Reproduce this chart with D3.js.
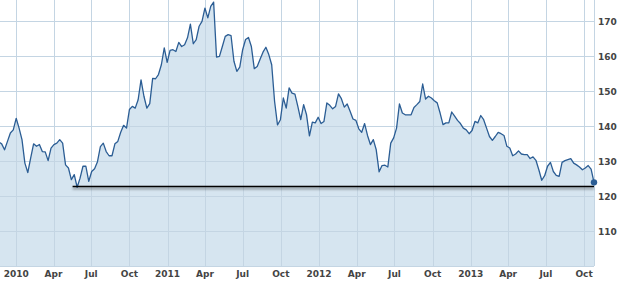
<!DOCTYPE html>
<html>
<head>
<meta charset="utf-8">
<script src="https://cdn.jsdelivr.net/npm/d3@7"></script>
<style>
  html, body { margin: 0; padding: 0; background: #fff; }
  svg text { font-family: "DejaVu Sans", Verdana, sans-serif; font-weight: bold; font-size: 9px; fill: #444; }
</style>
</head>
<body>
<div id="chart"></div>
<script>
// weekly closes, first week ending 2009-11-20
const firstWeek = '2009-11-20';
const closes = [
  135.4, 134.9, 133.2, 135.6, 138.0, 138.9, 142.2, 139.4, 136.1, 129.4,
  126.7, 130.9, 134.9, 134.2, 134.7, 132.7, 132.6, 130.1, 133.7, 134.7,
  135.1, 136.1, 135.1, 128.9, 128.0, 124.7, 126.1, 122.5, 125.1, 128.5,
  128.5, 124.2, 127.0, 127.8, 129.8, 134.1, 135.1, 132.7, 131.5, 131.5,
  134.9, 135.6, 138.2, 140.2, 139.4, 144.7, 145.6, 145.1, 147.5, 153.2,
  148.5, 145.1, 146.4, 153.6, 153.5, 154.7, 157.5, 162.3, 158.2, 161.6,
  161.8, 161.3, 163.9, 162.7, 163.2, 165.2, 169.1, 163.5, 164.7, 168.5,
  169.9, 173.7, 170.9, 174.2, 175.4, 159.7, 159.9, 162.7, 165.6, 166.1,
  165.8, 158.5, 155.6, 156.8, 161.8, 164.7, 165.3, 162.7, 156.4, 157.0,
  159.1, 161.1, 162.5, 160.4, 157.5, 147.0, 140.3, 141.8, 148.0, 145.1,
  150.9, 149.4, 149.1, 145.6, 141.8, 146.1, 143.2, 137.2, 141.1, 140.9,
  142.5, 140.7, 141.3, 146.6, 145.9, 144.9, 145.6, 149.2, 147.8, 145.4,
  146.3, 144.2, 142.0, 141.6, 139.2, 138.2, 140.7, 137.3, 134.7, 136.1,
  133.2, 126.9, 128.7, 128.8, 128.3, 135.1, 136.6, 139.4, 146.3, 143.7,
  143.2, 143.2, 143.2, 145.3, 146.1, 147.0, 152.0, 147.7, 148.5, 148.0,
  147.2, 146.6, 143.7, 140.4, 140.9, 140.9, 144.0, 142.8, 141.6, 140.7,
  139.4, 138.9, 137.8, 138.7, 141.3, 140.9, 143.0, 141.8, 139.4, 137.0,
  135.9, 137.0, 138.2, 137.8, 137.3, 134.2, 133.7, 131.5, 132.0, 132.9,
  132.0, 131.8, 131.8, 130.7, 131.2, 130.2, 127.5, 124.5, 125.8, 128.5,
  129.6, 127.0, 125.9, 125.6, 129.6, 130.1, 130.4, 130.7, 129.4, 128.9,
  128.3, 127.5, 128.0, 128.7, 127.7, 123.9
];
const yTicks = [110, 120, 130, 140, 150, 160, 170];
const supportLevel = 122.9;
const supportFrom = '2010-05-17';

const width = 619;
const height = 283;
const plotW = 594;
const plotH = 266;

const parse = d3.timeParse('%Y-%m-%d');
const start = parse(firstWeek);
const data = closes.map((v, i) => ({ date: d3.timeWeek.offset(start, i), value: v }));
const lastDate = data[data.length - 1].date;

const x = d3.scaleTime()
  .domain([d3.timeDay.offset(lastDate, -1432), lastDate])
  .range([0, plotW]);

const y = d3.scaleLinear()
  .domain([100, 176])
  .range([plotH, 0]);

const svg = d3.select('#chart').append('svg')
  .attr('width', width)
  .attr('height', height);

const defs = svg.append('defs');
defs.append('clipPath').attr('id', 'plot')
  .append('rect').attr('width', plotW).attr('height', plotH);

defs.append('filter').attr('id', 'blur')
  .attr('filterUnits', 'userSpaceOnUse')
  .attr('x', 0).attr('y', 0).attr('width', width).attr('height', height)
  .append('feGaussianBlur')
  .attr('stdDeviation', 1.2);

const plot = svg.append('g').attr('clip-path', 'url(#plot)');

const area = d3.area()
  .x(d => x(d.date))
  .y0(plotH)
  .y1(d => y(d.value));

plot.append('path')
  .datum(data)
  .attr('fill', '#d6e5f0')
  .attr('d', area);

// grid on top of the fill
const xTicks = d3.timeMonth.every(3).range(d3.timeMonth.ceil(x.domain()[0]), lastDate);

plot.append('g')
  .attr('stroke', '#c4d5e3')
  .attr('stroke-width', 1)
  .selectAll('line')
  .data(xTicks)
  .join('line')
  .attr('x1', d => Math.round(x(d)) + 0.5)
  .attr('x2', d => Math.round(x(d)) + 0.5)
  .attr('y1', 0)
  .attr('y2', plotH);

plot.append('g')
  .attr('stroke', '#c4d5e3')
  .attr('stroke-width', 1)
  .selectAll('line')
  .data(yTicks)
  .join('line')
  .attr('x1', 0)
  .attr('x2', plotW)
  .attr('y1', d => Math.round(y(d)) + 0.5)
  .attr('y2', d => Math.round(y(d)) + 0.5);

svg.append('line')
  .attr('x1', 0).attr('x2', plotW)
  .attr('y1', plotH + 0.5).attr('y2', plotH + 0.5)
  .attr('stroke', '#c4d5e3');

svg.append('line')
  .attr('x1', plotW + 0.5).attr('x2', plotW + 0.5)
  .attr('y1', 0).attr('y2', plotH)
  .attr('stroke', '#c4d5e3');

const line = d3.line()
  .x(d => x(d.date))
  .y(d => y(d.value));

plot.append('path')
  .datum(data)
  .attr('fill', 'none')
  .attr('stroke', '#2b5d94')
  .attr('stroke-width', 1.3)
  .attr('stroke-linejoin', 'round')
  .attr('d', line);

// support line with a soft shadow under it
const sy = Math.round(y(supportLevel)) + 0.5;
svg.append('line')
  .attr('x1', x(parse(supportFrom)))
  .attr('x2', plotW)
  .attr('y1', sy + 2)
  .attr('y2', sy + 2)
  .attr('stroke', 'rgba(0,0,0,0.35)')
  .attr('stroke-width', 2)
  .attr('filter', 'url(#blur)');

svg.append('line')
  .attr('x1', x(parse(supportFrom)))
  .attr('x2', plotW)
  .attr('y1', sy)
  .attr('y2', sy)
  .attr('stroke', '#000')
  .attr('stroke-width', 1.4);

const last = data[data.length - 1];
svg.append('circle')
  .attr('cx', x(last.date))
  .attr('cy', y(last.value))
  .attr('r', 3.2)
  .attr('fill', '#2b5d94');

// axes
const fmt = d => d.getMonth() === 0 ? d3.timeFormat('%Y')(d) : d3.timeFormat('%b')(d);

svg.append('g')
  .selectAll('text')
  .data(xTicks)
  .join('text')
  .attr('x', d => x(d))
  .attr('y', 277)
  .attr('text-anchor', 'middle')
  .text(fmt);

svg.append('g')
  .selectAll('text')
  .data(yTicks)
  .join('text')
  .attr('x', 598)
  .attr('y', d => y(d) + 3.5)
  .text(d => d);
</script>
</body>
</html>
